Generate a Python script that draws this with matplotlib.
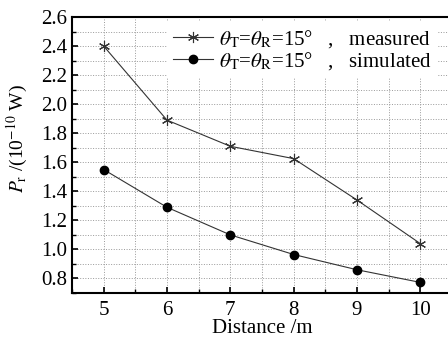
import numpy as np
import matplotlib.pyplot as plt
from matplotlib.ticker import MultipleLocator

# data
distance = [5, 6, 7, 8, 9, 10]
measured = [2.40, 1.89, 1.71, 1.625, 1.34, 1.04]
simulated = [1.55, 1.29, 1.10, 0.965, 0.86, 0.773]

plt.rcParams['font.family'] = ['Liberation Serif', 'DejaVu Serif']
plt.rcParams['mathtext.fontset'] = 'stix'

fig = plt.figure(figsize=(4.48, 3.37), dpi=100)
ax = fig.add_axes([72/448, 1 - 293/337, 380/448, 276/337])

ax.plot(distance, measured, color='#333333', lw=0.8, marker=(6, 2, 0), ms=8,
        mew=0.8, label=r'$\theta_{\rm T}$=$\theta_{\rm R}$=15°   ,   measured')
ax.plot(distance, simulated, color='#333333', lw=0.8, marker='o', ms=6,
        mfc='black', mec='black',
        label=r'$\theta_{\rm T}$=$\theta_{\rm R}$=15°   ,   simulated')

ax.set_xlim(4.5, 10.5)
ax.set_ylim(0.7, 2.6)
ax.xaxis.set_major_locator(MultipleLocator(1))
ax.xaxis.set_minor_locator(MultipleLocator(0.5))
ax.yaxis.set_major_locator(MultipleLocator(0.2))
ax.yaxis.set_minor_locator(MultipleLocator(0.1))
ax.yaxis.set_major_formatter(plt.FormatStrFormatter('%.1f'))
ax.grid(True, which='both', color='#999999', ls=':', lw=0.7)
ax.set_axisbelow(True)
ax.tick_params(which='both', direction='in', labelsize=15, top=False, right=False)
ax.tick_params(axis='x', pad=6)
ax.tick_params(which='major', length=4, width=1.2)
ax.tick_params(which='minor', length=3, width=1)
for s in ['left', 'bottom', 'top']:
    ax.spines[s].set_linewidth(1.5)
ax.spines['right'].set_visible(False)

ax.set_xlabel('Distance /m', fontsize=15, labelpad=-1)
ax.set_ylabel(r'$P_{\rm r}$ /(10$^{-10}$ W)', fontsize=14)
ax.yaxis.set_label_coords(-0.11, 0.56)

leg = ax.legend(loc='upper right', bbox_to_anchor=(0.99, 1.02), fontsize=15,
                frameon=True, fancybox=False, handlelength=1.9,
                handletextpad=0.3, labelspacing=0.0, borderpad=0.3)
leg.get_frame().set_edgecolor('none')
leg.get_frame().set_facecolor('white')
leg.get_frame().set_alpha(1)

fig.savefig('out.png', dpi=100)
